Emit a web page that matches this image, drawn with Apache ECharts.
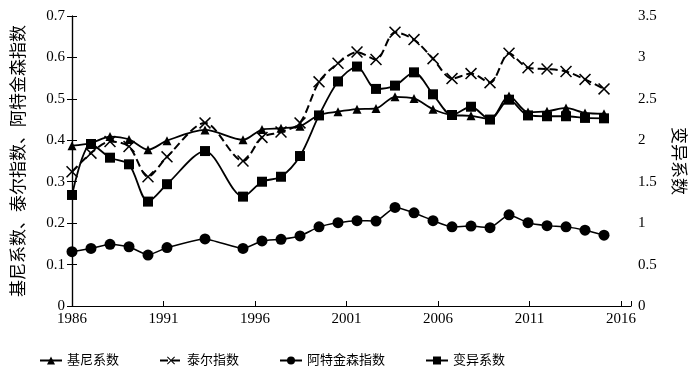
<!DOCTYPE html>
<html>
<head>
<meta charset="utf-8">
<script src="https://cdn.jsdelivr.net/npm/echarts@6/dist/echarts.min.js"></script>
<style>
  html, body { margin: 0; padding: 0; background: #fff; }
  #chart { width: 700px; height: 373px; }
</style>
</head>
<body>
<div id="chart"></div>
<script>
// years of the observations (1992 and 1994 are missing)
var years = [1986, 1987, 1988, 1989, 1990, 1991, 1993, 1995, 1996, 1997, 1998, 1999, 2000,
  2001, 2002, 2003, 2004, 2005, 2006, 2007, 2008, 2009, 2010, 2011, 2012, 2013, 2014];
var gini = [0.387, 0.393, 0.409, 0.402, 0.377, 0.399, 0.425, 0.401, 0.426, 0.429, 0.434, 0.461, 0.469,
  0.475, 0.477, 0.505, 0.501, 0.475, 0.461, 0.459, 0.451, 0.507, 0.468, 0.470, 0.478, 0.466, 0.464];
var theil = [0.324, 0.369, 0.397, 0.385, 0.312, 0.360, 0.442, 0.350, 0.407, 0.420, 0.442, 0.541, 0.586,
  0.613, 0.595, 0.661, 0.643, 0.597, 0.549, 0.561, 0.539, 0.610, 0.575, 0.572, 0.566, 0.547, 0.524];
var atkinson = [0.131, 0.139, 0.149, 0.143, 0.123, 0.141, 0.162, 0.139, 0.157, 0.161, 0.169, 0.191, 0.201,
  0.206, 0.205, 0.238, 0.225, 0.206, 0.191, 0.193, 0.189, 0.220, 0.201, 0.194, 0.191, 0.183, 0.171];
var cv = [1.34, 1.955, 1.79, 1.71, 1.26, 1.47, 1.87, 1.32, 1.50, 1.56, 1.81, 2.30, 2.71,
  2.89, 2.62, 2.66, 2.82, 2.555, 2.305, 2.405, 2.25, 2.49, 2.30, 2.29, 2.29, 2.27, 2.265];
var names = ['基尼系数', '泰尔指数', '阿特金森指数', '变异系数'];
var startYear = 1986;

var serif = "'Liberation Serif', 'Noto Sans CJK SC', serif";
var cross = 'path://M0,0.9L0.9,0L5,4.1L9.1,0L10,0.9L5.9,5L10,9.1L9.1,10L5,5.9L0.9,10L0,9.1L4.1,5Z';

function pairs(vals) {
  return vals.map(function (v, i) { return [years[i] - startYear, v]; });
}

var tickStyle = { show: true, inside: true, length: 5, lineStyle: { color: '#000' } };
var lineAxis = { show: true, lineStyle: { color: '#000', width: 1.2 } };

var chart = echarts.init(document.getElementById('chart'));
var option = {
  animation: false,
  textStyle: { fontFamily: serif, color: '#000' },
  grid: { left: 72, right: 69, top: 16, bottom: 67 },
  legend: {
    top: 349,
    left: 34,
    itemGap: 40,
    itemWidth: 22,
    itemHeight: 10,
    textStyle: { fontSize: 13, color: '#000', fontFamily: serif },
    data: names
  },
  // the original figure spaces its points a little wider than its year labels,
  // so the points sit on a hidden axis and the labels on a second one
  xAxis: [{
    type: 'value',
    show: false,
    position: 'bottom',
    min: 0,
    max: 29.42
  }, {
    type: 'value',
    position: 'bottom',
    min: 0,
    max: 30.55,
    interval: 5,
    axisLine: lineAxis,
    axisTick: tickStyle,
    splitLine: { show: false },
    axisLabel: {
      fontSize: 15, color: '#000', margin: 6,
      formatter: function (v) { return v % 5 === 0 ? String(v + startYear) : ''; }
    }
  }],
  yAxis: [{
    type: 'value',
    min: 0, max: 0.7, interval: 0.1,
    name: '基尼系数、泰尔指数、阿特金森指数',
    nameLocation: 'middle',
    nameRotate: 90,
    nameGap: 44,
    nameTextStyle: { fontSize: 17, color: '#000', fontFamily: serif },
    axisLine: lineAxis,
    axisTick: tickStyle,
    splitLine: { show: false },
    axisLabel: { fontSize: 15, color: '#000', margin: 7,
      formatter: function (v) { return v === 0 ? '0' : v.toFixed(1); } }
  }, {
    type: 'value',
    min: 0, max: 3.5, interval: 0.5,
    name: '变异系数',
    nameLocation: 'middle',
    nameRotate: -90,
    nameGap: 38,
    nameTextStyle: { fontSize: 17, color: '#000', fontFamily: serif },
    axisLine: lineAxis,
    axisTick: tickStyle,
    splitLine: { show: false },
    axisLabel: { fontSize: 15, color: '#000', margin: 7,
      formatter: function (v) { return String(v); } }
  }],
  series: [{
    name: names[0], type: 'line', xAxisIndex: 0, yAxisIndex: 0,
    data: pairs(gini), smooth: 0.3,
    symbol: 'triangle', symbolSize: 9,
    lineStyle: { color: '#000', width: 1.8 },
    itemStyle: { color: '#000' }
  }, {
    name: names[1], type: 'line', xAxisIndex: 0, yAxisIndex: 0,
    data: pairs(theil), smooth: 0.3,
    symbol: cross, symbolSize: 12,
    lineStyle: { color: '#000', width: 2, type: [8, 4] },
    itemStyle: { color: '#000' }
  }, {
    name: names[2], type: 'line', xAxisIndex: 0, yAxisIndex: 0,
    data: pairs(atkinson), smooth: 0.15,
    symbol: 'circle', symbolSize: 11,
    lineStyle: { color: '#000', width: 1.5 },
    itemStyle: { color: '#000' }
  }, {
    name: names[3], type: 'line', xAxisIndex: 0, yAxisIndex: 1,
    data: pairs(cv), smooth: 0.3,
    symbol: 'rect', symbolSize: 10,
    lineStyle: { color: '#000', width: 1.8 },
    itemStyle: { color: '#000' }
  }]
};
chart.setOption(option);
</script>
</body>
</html>
